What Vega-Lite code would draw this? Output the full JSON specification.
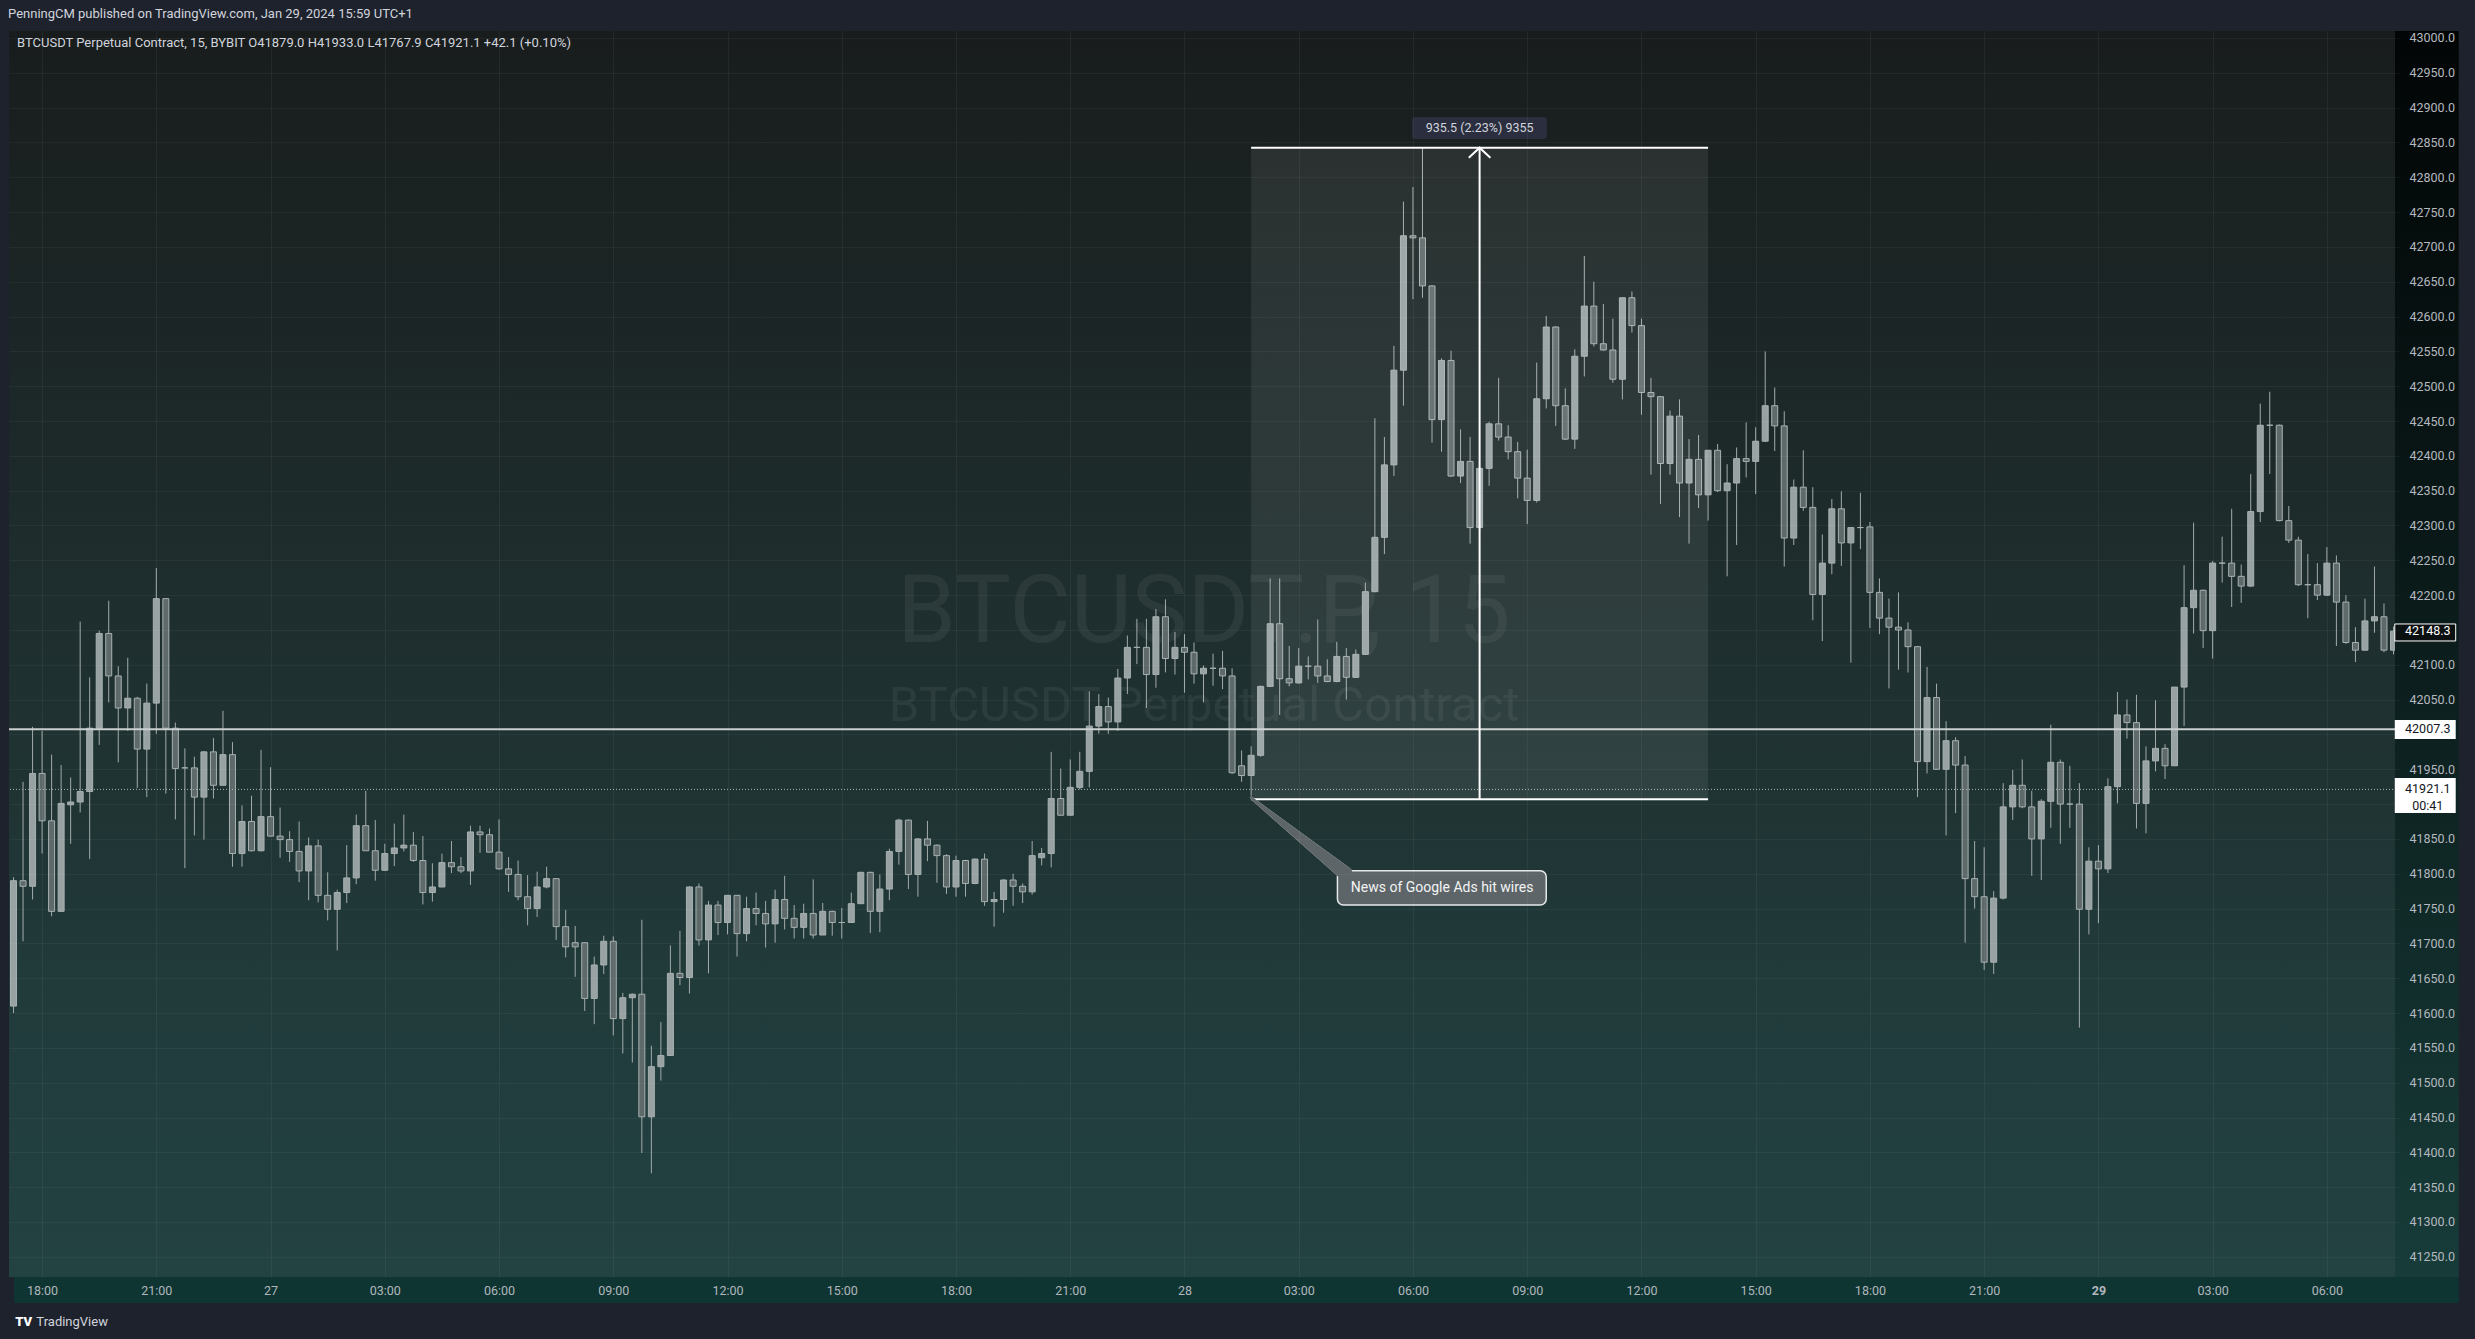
{
"$schema":"https://vega.github.io/schema/vega-lite/v6.json",
"width":2391,"height":1246,
"autosize":{"type":"none"},
"padding":{"left":9,"top":31,"right":75,"bottom":62},
"background":"#1e222d",
"config":{"view":{"stroke":null,"fill":{"gradient":"linear","x1":0,"y1":0,"x2":0,"y2":1,"stops":[{"offset":0,"color":"#181c1d"},{"offset":0.08,"color":"#1a2020"},{"offset":0.25,"color":"#1c2626"},{"offset":0.41,"color":"#1e2c2c"},{"offset":0.63,"color":"#203434"},{"offset":0.78,"color":"#213b3b"},{"offset":1,"color":"#234242"}]}},"font":"Roboto",
 "axis":{"labelOverlap":false}},
"datasets":{
"candles":[
{"t":"2024-01-26T17:15Z","o":41610,"h":41795,"l":41600,"c":41790},
{"t":"2024-01-26T17:30Z","o":41790,"h":41932,"l":41703,"c":41782},
{"t":"2024-01-26T17:45Z","o":41782,"h":42011,"l":41763,"c":41944},
{"t":"2024-01-26T18:00Z","o":41944,"h":42005,"l":41829,"c":41876},
{"t":"2024-01-26T18:15Z","o":41876,"h":41971,"l":41739,"c":41746},
{"t":"2024-01-26T18:30Z","o":41746,"h":41956,"l":41746,"c":41901},
{"t":"2024-01-26T18:45Z","o":41899,"h":41938,"l":41843,"c":41903},
{"t":"2024-01-26T19:00Z","o":41903,"h":42162,"l":41888,"c":41918},
{"t":"2024-01-26T19:15Z","o":41918,"h":42082,"l":41821,"c":42009},
{"t":"2024-01-26T19:30Z","o":42009,"h":42149,"l":41985,"c":42145},
{"t":"2024-01-26T19:45Z","o":42145,"h":42192,"l":42046,"c":42084},
{"t":"2024-01-26T20:00Z","o":42084,"h":42098,"l":41960,"c":42038},
{"t":"2024-01-26T20:15Z","o":42038,"h":42110,"l":42005,"c":42052},
{"t":"2024-01-26T20:30Z","o":42052,"h":42054,"l":41923,"c":41979},
{"t":"2024-01-26T20:45Z","o":41979,"h":42073,"l":41910,"c":42045},
{"t":"2024-01-26T21:00Z","o":42045,"h":42239,"l":42001,"c":42195},
{"t":"2024-01-26T21:15Z","o":42195,"h":42195,"l":41915,"c":42009},
{"t":"2024-01-26T21:30Z","o":42009,"h":42017,"l":41878,"c":41951},
{"t":"2024-01-26T21:45Z","o":41952,"h":41980,"l":41808,"c":41952},
{"t":"2024-01-26T22:00Z","o":41952,"h":41968,"l":41855,"c":41910},
{"t":"2024-01-26T22:15Z","o":41910,"h":41976,"l":41849,"c":41975},
{"t":"2024-01-26T22:30Z","o":41975,"h":41995,"l":41908,"c":41927},
{"t":"2024-01-26T22:45Z","o":41927,"h":42034,"l":41927,"c":41971},
{"t":"2024-01-26T23:00Z","o":41971,"h":41989,"l":41810,"c":41829},
{"t":"2024-01-26T23:15Z","o":41829,"h":41898,"l":41810,"c":41875},
{"t":"2024-01-26T23:30Z","o":41875,"h":41912,"l":41832,"c":41833},
{"t":"2024-01-26T23:45Z","o":41833,"h":41978,"l":41832,"c":41882},
{"t":"2024-01-27T00:00Z","o":41882,"h":41953,"l":41854,"c":41854},
{"t":"2024-01-27T00:15Z","o":41854,"h":41895,"l":41823,"c":41849},
{"t":"2024-01-27T00:30Z","o":41849,"h":41861,"l":41817,"c":41832},
{"t":"2024-01-27T00:45Z","o":41832,"h":41875,"l":41788,"c":41804},
{"t":"2024-01-27T01:00Z","o":41804,"h":41852,"l":41762,"c":41840},
{"t":"2024-01-27T01:15Z","o":41840,"h":41849,"l":41759,"c":41769},
{"t":"2024-01-27T01:30Z","o":41769,"h":41802,"l":41733,"c":41749},
{"t":"2024-01-27T01:45Z","o":41749,"h":41777,"l":41690,"c":41773},
{"t":"2024-01-27T02:00Z","o":41773,"h":41841,"l":41758,"c":41794},
{"t":"2024-01-27T02:15Z","o":41794,"h":41885,"l":41785,"c":41869},
{"t":"2024-01-27T02:30Z","o":41869,"h":41919,"l":41833,"c":41833},
{"t":"2024-01-27T02:45Z","o":41833,"h":41877,"l":41790,"c":41805},
{"t":"2024-01-27T03:00Z","o":41805,"h":41843,"l":41804,"c":41829},
{"t":"2024-01-27T03:15Z","o":41829,"h":41872,"l":41811,"c":41837},
{"t":"2024-01-27T03:30Z","o":41837,"h":41885,"l":41832,"c":41841},
{"t":"2024-01-27T03:45Z","o":41841,"h":41860,"l":41817,"c":41819},
{"t":"2024-01-27T04:00Z","o":41819,"h":41854,"l":41756,"c":41773},
{"t":"2024-01-27T04:15Z","o":41773,"h":41815,"l":41760,"c":41781},
{"t":"2024-01-27T04:30Z","o":41781,"h":41829,"l":41781,"c":41816},
{"t":"2024-01-27T04:45Z","o":41816,"h":41847,"l":41801,"c":41810},
{"t":"2024-01-27T05:00Z","o":41810,"h":41824,"l":41801,"c":41804},
{"t":"2024-01-27T05:15Z","o":41804,"h":41869,"l":41784,"c":41860},
{"t":"2024-01-27T05:30Z","o":41860,"h":41869,"l":41830,"c":41856},
{"t":"2024-01-27T05:45Z","o":41856,"h":41865,"l":41831,"c":41831},
{"t":"2024-01-27T06:00Z","o":41831,"h":41878,"l":41806,"c":41807},
{"t":"2024-01-27T06:15Z","o":41807,"h":41824,"l":41774,"c":41799},
{"t":"2024-01-27T06:30Z","o":41799,"h":41819,"l":41762,"c":41767},
{"t":"2024-01-27T06:45Z","o":41767,"h":41798,"l":41726,"c":41750},
{"t":"2024-01-27T07:00Z","o":41750,"h":41803,"l":41738,"c":41781},
{"t":"2024-01-27T07:15Z","o":41781,"h":41810,"l":41779,"c":41793},
{"t":"2024-01-27T07:30Z","o":41793,"h":41793,"l":41705,"c":41724},
{"t":"2024-01-27T07:45Z","o":41724,"h":41748,"l":41680,"c":41695},
{"t":"2024-01-27T08:00Z","o":41701,"h":41725,"l":41652,"c":41695},
{"t":"2024-01-27T08:15Z","o":41701,"h":41701,"l":41603,"c":41621},
{"t":"2024-01-27T08:30Z","o":41621,"h":41681,"l":41584,"c":41669},
{"t":"2024-01-27T08:45Z","o":41669,"h":41711,"l":41656,"c":41703},
{"t":"2024-01-27T09:00Z","o":41703,"h":41710,"l":41568,"c":41592},
{"t":"2024-01-27T09:15Z","o":41592,"h":41629,"l":41542,"c":41622},
{"t":"2024-01-27T09:30Z","o":41622,"h":41628,"l":41529,"c":41627},
{"t":"2024-01-27T09:45Z","o":41627,"h":41734,"l":41399,"c":41451},
{"t":"2024-01-27T10:00Z","o":41451,"h":41553,"l":41370,"c":41523},
{"t":"2024-01-27T10:15Z","o":41523,"h":41587,"l":41503,"c":41539},
{"t":"2024-01-27T10:30Z","o":41539,"h":41697,"l":41539,"c":41657},
{"t":"2024-01-27T10:45Z","o":41657,"h":41718,"l":41640,"c":41651},
{"t":"2024-01-27T11:00Z","o":41651,"h":41782,"l":41628,"c":41781},
{"t":"2024-01-27T11:15Z","o":41781,"h":41786,"l":41697,"c":41705},
{"t":"2024-01-27T11:30Z","o":41705,"h":41761,"l":41657,"c":41755},
{"t":"2024-01-27T11:45Z","o":41755,"h":41761,"l":41712,"c":41730},
{"t":"2024-01-27T12:00Z","o":41730,"h":41769,"l":41713,"c":41769},
{"t":"2024-01-27T12:15Z","o":41769,"h":41769,"l":41681,"c":41714},
{"t":"2024-01-27T12:30Z","o":41714,"h":41767,"l":41703,"c":41750},
{"t":"2024-01-27T12:45Z","o":41750,"h":41773,"l":41726,"c":41743},
{"t":"2024-01-27T13:00Z","o":41743,"h":41761,"l":41694,"c":41728},
{"t":"2024-01-27T13:15Z","o":41728,"h":41777,"l":41701,"c":41763},
{"t":"2024-01-27T13:30Z","o":41763,"h":41797,"l":41720,"c":41736},
{"t":"2024-01-27T13:45Z","o":41736,"h":41755,"l":41707,"c":41723},
{"t":"2024-01-27T14:00Z","o":41723,"h":41757,"l":41707,"c":41743},
{"t":"2024-01-27T14:15Z","o":41743,"h":41792,"l":41707,"c":41712},
{"t":"2024-01-27T14:30Z","o":41712,"h":41758,"l":41712,"c":41746},
{"t":"2024-01-27T14:45Z","o":41746,"h":41747,"l":41711,"c":41730},
{"t":"2024-01-27T15:00Z","o":41730,"h":41751,"l":41707,"c":41730},
{"t":"2024-01-27T15:15Z","o":41730,"h":41773,"l":41730,"c":41757},
{"t":"2024-01-27T15:30Z","o":41757,"h":41803,"l":41757,"c":41802},
{"t":"2024-01-27T15:45Z","o":41802,"h":41803,"l":41715,"c":41746},
{"t":"2024-01-27T16:00Z","o":41746,"h":41799,"l":41716,"c":41778},
{"t":"2024-01-27T16:15Z","o":41778,"h":41836,"l":41762,"c":41832},
{"t":"2024-01-27T16:30Z","o":41832,"h":41879,"l":41813,"c":41877},
{"t":"2024-01-27T16:45Z","o":41877,"h":41878,"l":41778,"c":41799},
{"t":"2024-01-27T17:00Z","o":41799,"h":41851,"l":41767,"c":41850},
{"t":"2024-01-27T17:15Z","o":41850,"h":41876,"l":41818,"c":41841},
{"t":"2024-01-27T17:30Z","o":41841,"h":41842,"l":41787,"c":41826},
{"t":"2024-01-27T17:45Z","o":41826,"h":41828,"l":41771,"c":41781},
{"t":"2024-01-27T18:00Z","o":41781,"h":41826,"l":41767,"c":41819},
{"t":"2024-01-27T18:15Z","o":41819,"h":41820,"l":41767,"c":41786},
{"t":"2024-01-27T18:30Z","o":41786,"h":41822,"l":41785,"c":41821},
{"t":"2024-01-27T18:45Z","o":41821,"h":41829,"l":41754,"c":41760},
{"t":"2024-01-27T19:00Z","o":41760,"h":41774,"l":41724,"c":41763},
{"t":"2024-01-27T19:15Z","o":41763,"h":41792,"l":41744,"c":41791},
{"t":"2024-01-27T19:30Z","o":41791,"h":41800,"l":41754,"c":41782},
{"t":"2024-01-27T19:45Z","o":41782,"h":41786,"l":41758,"c":41774},
{"t":"2024-01-27T20:00Z","o":41774,"h":41847,"l":41770,"c":41826},
{"t":"2024-01-27T20:15Z","o":41823,"h":41837,"l":41812,"c":41829},
{"t":"2024-01-27T20:30Z","o":41829,"h":41975,"l":41809,"c":41908},
{"t":"2024-01-27T20:45Z","o":41908,"h":41951,"l":41884,"c":41884},
{"t":"2024-01-27T21:00Z","o":41884,"h":41964,"l":41884,"c":41924},
{"t":"2024-01-27T21:15Z","o":41924,"h":41975,"l":41921,"c":41947},
{"t":"2024-01-27T21:30Z","o":41947,"h":42062,"l":41924,"c":42012},
{"t":"2024-01-27T21:45Z","o":42012,"h":42058,"l":42001,"c":42040},
{"t":"2024-01-27T22:00Z","o":42040,"h":42053,"l":42001,"c":42018},
{"t":"2024-01-27T22:15Z","o":42018,"h":42094,"l":42005,"c":42081},
{"t":"2024-01-27T22:30Z","o":42081,"h":42142,"l":42058,"c":42125},
{"t":"2024-01-27T22:45Z","o":42125,"h":42166,"l":42101,"c":42125},
{"t":"2024-01-27T23:00Z","o":42125,"h":42166,"l":42038,"c":42086},
{"t":"2024-01-27T23:15Z","o":42086,"h":42180,"l":42067,"c":42169},
{"t":"2024-01-27T23:30Z","o":42169,"h":42194,"l":42089,"c":42109},
{"t":"2024-01-27T23:45Z","o":42109,"h":42147,"l":42086,"c":42125},
{"t":"2024-01-28T00:00Z","o":42125,"h":42144,"l":42060,"c":42118},
{"t":"2024-01-28T00:15Z","o":42118,"h":42132,"l":42073,"c":42087},
{"t":"2024-01-28T00:30Z","o":42087,"h":42099,"l":42046,"c":42095},
{"t":"2024-01-28T00:45Z","o":42095,"h":42116,"l":42070,"c":42095},
{"t":"2024-01-28T01:00Z","o":42095,"h":42120,"l":42065,"c":42084},
{"t":"2024-01-28T01:15Z","o":42084,"h":42095,"l":41943,"c":41945},
{"t":"2024-01-28T01:30Z","o":41955,"h":41977,"l":41932,"c":41941},
{"t":"2024-01-28T01:45Z","o":41941,"h":41983,"l":41912,"c":41970},
{"t":"2024-01-28T02:00Z","o":41970,"h":42070,"l":41968,"c":42069},
{"t":"2024-01-28T02:15Z","o":42069,"h":42224,"l":42068,"c":42159},
{"t":"2024-01-28T02:30Z","o":42159,"h":42224,"l":42028,"c":42080},
{"t":"2024-01-28T02:45Z","o":42080,"h":42127,"l":42069,"c":42074},
{"t":"2024-01-28T03:00Z","o":42074,"h":42124,"l":42073,"c":42098},
{"t":"2024-01-28T03:15Z","o":42098,"h":42112,"l":42079,"c":42098},
{"t":"2024-01-28T03:30Z","o":42098,"h":42165,"l":42074,"c":42084},
{"t":"2024-01-28T03:45Z","o":42084,"h":42108,"l":42075,"c":42076},
{"t":"2024-01-28T04:00Z","o":42076,"h":42133,"l":42075,"c":42112},
{"t":"2024-01-28T04:15Z","o":42112,"h":42124,"l":42050,"c":42082},
{"t":"2024-01-28T04:30Z","o":42082,"h":42122,"l":42081,"c":42115},
{"t":"2024-01-28T04:45Z","o":42115,"h":42218,"l":42114,"c":42205},
{"t":"2024-01-28T05:00Z","o":42205,"h":42454,"l":42204,"c":42283},
{"t":"2024-01-28T05:15Z","o":42283,"h":42427,"l":42259,"c":42387},
{"t":"2024-01-28T05:30Z","o":42387,"h":42558,"l":42371,"c":42523},
{"t":"2024-01-28T05:45Z","o":42523,"h":42765,"l":42472,"c":42716},
{"t":"2024-01-28T06:00Z","o":42716,"h":42786,"l":42625,"c":42713},
{"t":"2024-01-28T06:15Z","o":42713,"h":42842.5,"l":42627,"c":42644},
{"t":"2024-01-28T06:30Z","o":42644,"h":42645,"l":42419,"c":42452},
{"t":"2024-01-28T06:45Z","o":42452,"h":42540,"l":42406,"c":42537},
{"t":"2024-01-28T07:00Z","o":42537,"h":42551,"l":42370,"c":42371},
{"t":"2024-01-28T07:15Z","o":42371,"h":42438,"l":42361,"c":42392},
{"t":"2024-01-28T07:30Z","o":42392,"h":42427,"l":42274,"c":42297},
{"t":"2024-01-28T07:45Z","o":42297,"h":42390,"l":42290,"c":42382},
{"t":"2024-01-28T08:00Z","o":42382,"h":42449,"l":42357,"c":42446},
{"t":"2024-01-28T08:15Z","o":42446,"h":42512,"l":42422,"c":42427},
{"t":"2024-01-28T08:30Z","o":42427,"h":42444,"l":42395,"c":42406},
{"t":"2024-01-28T08:45Z","o":42406,"h":42420,"l":42339,"c":42368},
{"t":"2024-01-28T09:00Z","o":42368,"h":42409,"l":42302,"c":42336},
{"t":"2024-01-28T09:15Z","o":42336,"h":42534,"l":42333,"c":42482},
{"t":"2024-01-28T09:30Z","o":42482,"h":42601,"l":42468,"c":42585},
{"t":"2024-01-28T09:45Z","o":42585,"h":42586,"l":42443,"c":42472},
{"t":"2024-01-28T10:00Z","o":42472,"h":42497,"l":42423,"c":42424},
{"t":"2024-01-28T10:15Z","o":42424,"h":42553,"l":42410,"c":42543},
{"t":"2024-01-28T10:30Z","o":42543,"h":42687,"l":42514,"c":42615},
{"t":"2024-01-28T10:45Z","o":42615,"h":42650,"l":42557,"c":42561},
{"t":"2024-01-28T11:00Z","o":42561,"h":42618,"l":42551,"c":42552},
{"t":"2024-01-28T11:15Z","o":42552,"h":42597,"l":42505,"c":42510},
{"t":"2024-01-28T11:30Z","o":42510,"h":42627,"l":42481,"c":42627},
{"t":"2024-01-28T11:45Z","o":42627,"h":42636,"l":42577,"c":42587},
{"t":"2024-01-28T12:00Z","o":42587,"h":42597,"l":42459,"c":42491},
{"t":"2024-01-28T12:15Z","o":42491,"h":42512,"l":42373,"c":42485},
{"t":"2024-01-28T12:30Z","o":42485,"h":42485,"l":42331,"c":42389},
{"t":"2024-01-28T12:45Z","o":42389,"h":42465,"l":42373,"c":42457},
{"t":"2024-01-28T13:00Z","o":42457,"h":42481,"l":42312,"c":42361},
{"t":"2024-01-28T13:15Z","o":42361,"h":42424,"l":42274,"c":42395},
{"t":"2024-01-28T13:30Z","o":42395,"h":42430,"l":42325,"c":42344},
{"t":"2024-01-28T13:45Z","o":42344,"h":42408,"l":42307,"c":42408},
{"t":"2024-01-28T14:00Z","o":42408,"h":42417,"l":42348,"c":42350},
{"t":"2024-01-28T14:15Z","o":42350,"h":42388,"l":42227,"c":42361},
{"t":"2024-01-28T14:30Z","o":42361,"h":42412,"l":42272,"c":42396},
{"t":"2024-01-28T14:45Z","o":42396,"h":42448,"l":42369,"c":42392},
{"t":"2024-01-28T15:00Z","o":42392,"h":42441,"l":42345,"c":42421},
{"t":"2024-01-28T15:15Z","o":42421,"h":42550,"l":42420,"c":42472},
{"t":"2024-01-28T15:30Z","o":42472,"h":42498,"l":42407,"c":42443},
{"t":"2024-01-28T15:45Z","o":42443,"h":42464,"l":42241,"c":42282},
{"t":"2024-01-28T16:00Z","o":42282,"h":42366,"l":42272,"c":42355},
{"t":"2024-01-28T16:15Z","o":42355,"h":42408,"l":42321,"c":42326},
{"t":"2024-01-28T16:30Z","o":42326,"h":42355,"l":42164,"c":42201},
{"t":"2024-01-28T16:45Z","o":42201,"h":42287,"l":42134,"c":42246},
{"t":"2024-01-28T17:00Z","o":42246,"h":42338,"l":42230,"c":42324},
{"t":"2024-01-28T17:15Z","o":42324,"h":42349,"l":42242,"c":42275},
{"t":"2024-01-28T17:30Z","o":42275,"h":42297,"l":42103,"c":42297},
{"t":"2024-01-28T17:45Z","o":42297,"h":42347,"l":42266,"c":42297},
{"t":"2024-01-28T18:00Z","o":42298,"h":42305,"l":42153,"c":42204},
{"t":"2024-01-28T18:15Z","o":42204,"h":42224,"l":42144,"c":42167},
{"t":"2024-01-28T18:30Z","o":42167,"h":42195,"l":42066,"c":42154},
{"t":"2024-01-28T18:45Z","o":42154,"h":42204,"l":42093,"c":42150},
{"t":"2024-01-28T19:00Z","o":42150,"h":42161,"l":42089,"c":42126},
{"t":"2024-01-28T19:15Z","o":42126,"h":42127,"l":41910,"c":41961},
{"t":"2024-01-28T19:30Z","o":41961,"h":42097,"l":41944,"c":42053},
{"t":"2024-01-28T19:45Z","o":42053,"h":42073,"l":41950,"c":41950},
{"t":"2024-01-28T20:00Z","o":41950,"h":42019,"l":41855,"c":41991},
{"t":"2024-01-28T20:15Z","o":41991,"h":41996,"l":41887,"c":41956},
{"t":"2024-01-28T20:30Z","o":41956,"h":41969,"l":41701,"c":41793},
{"t":"2024-01-28T20:45Z","o":41793,"h":41847,"l":41750,"c":41767},
{"t":"2024-01-28T21:00Z","o":41767,"h":41838,"l":41662,"c":41673},
{"t":"2024-01-28T21:15Z","o":41673,"h":41775,"l":41656,"c":41765},
{"t":"2024-01-28T21:30Z","o":41765,"h":41930,"l":41763,"c":41896},
{"t":"2024-01-28T21:45Z","o":41896,"h":41949,"l":41877,"c":41927},
{"t":"2024-01-28T22:00Z","o":41927,"h":41964,"l":41894,"c":41896},
{"t":"2024-01-28T22:15Z","o":41896,"h":41919,"l":41797,"c":41850},
{"t":"2024-01-28T22:30Z","o":41850,"h":41907,"l":41791,"c":41904},
{"t":"2024-01-28T22:45Z","o":41904,"h":42014,"l":41866,"c":41960},
{"t":"2024-01-28T23:00Z","o":41960,"h":41964,"l":41843,"c":41900},
{"t":"2024-01-28T23:15Z","o":41900,"h":41955,"l":41866,"c":41900},
{"t":"2024-01-28T23:30Z","o":41900,"h":41930,"l":41579,"c":41749},
{"t":"2024-01-28T23:45Z","o":41749,"h":41838,"l":41713,"c":41818},
{"t":"2024-01-29T00:00Z","o":41818,"h":41841,"l":41729,"c":41807},
{"t":"2024-01-29T00:15Z","o":41807,"h":41937,"l":41801,"c":41925},
{"t":"2024-01-29T00:30Z","o":41925,"h":42061,"l":41901,"c":42028},
{"t":"2024-01-29T00:45Z","o":42028,"h":42050,"l":41994,"c":42017},
{"t":"2024-01-29T01:00Z","o":42017,"h":42057,"l":41865,"c":41901},
{"t":"2024-01-29T01:15Z","o":41901,"h":41983,"l":41858,"c":41962},
{"t":"2024-01-29T01:30Z","o":41962,"h":42049,"l":41947,"c":41980},
{"t":"2024-01-29T01:45Z","o":41980,"h":41986,"l":41936,"c":41955},
{"t":"2024-01-29T02:00Z","o":41955,"h":42068,"l":41955,"c":42068},
{"t":"2024-01-29T02:15Z","o":42068,"h":42243,"l":42012,"c":42182},
{"t":"2024-01-29T02:30Z","o":42182,"h":42304,"l":42145,"c":42207},
{"t":"2024-01-29T02:45Z","o":42207,"h":42208,"l":42124,"c":42149},
{"t":"2024-01-29T03:00Z","o":42149,"h":42249,"l":42109,"c":42246},
{"t":"2024-01-29T03:15Z","o":42246,"h":42284,"l":42218,"c":42246},
{"t":"2024-01-29T03:30Z","o":42246,"h":42324,"l":42183,"c":42227},
{"t":"2024-01-29T03:45Z","o":42227,"h":42244,"l":42189,"c":42213},
{"t":"2024-01-29T04:00Z","o":42213,"h":42374,"l":42212,"c":42320},
{"t":"2024-01-29T04:15Z","o":42320,"h":42475,"l":42305,"c":42444},
{"t":"2024-01-29T04:30Z","o":42444,"h":42492,"l":42374,"c":42444},
{"t":"2024-01-29T04:45Z","o":42444,"h":42445,"l":42306,"c":42307},
{"t":"2024-01-29T05:00Z","o":42307,"h":42328,"l":42275,"c":42279},
{"t":"2024-01-29T05:15Z","o":42279,"h":42284,"l":42213,"c":42215},
{"t":"2024-01-29T05:30Z","o":42215,"h":42259,"l":42167,"c":42215},
{"t":"2024-01-29T05:45Z","o":42215,"h":42246,"l":42193,"c":42200},
{"t":"2024-01-29T06:00Z","o":42200,"h":42269,"l":42199,"c":42246},
{"t":"2024-01-29T06:15Z","o":42246,"h":42257,"l":42127,"c":42190},
{"t":"2024-01-29T06:30Z","o":42190,"h":42200,"l":42130,"c":42132},
{"t":"2024-01-29T06:45Z","o":42132,"h":42154,"l":42104,"c":42121},
{"t":"2024-01-29T07:00Z","o":42121,"h":42195,"l":42120,"c":42163},
{"t":"2024-01-29T07:15Z","o":42163,"h":42241,"l":42146,"c":42169},
{"t":"2024-01-29T07:30Z","o":42169,"h":42188,"l":42118,"c":42121},
{"t":"2024-01-29T07:45Z","o":42121,"h":42155,"l":42115,"c":42148.3}
],
"wm1":[{"t":"2024-01-28T00:30:45Z","p":42132.8,"text":"BTCUSDT.P, 15"}],
"wm2":[{"t":"2024-01-28T00:30:45Z","p":42019.3,"text":"BTCUSDT Perpetual Contract"}],
"hline":[{"t1":"2024-01-26T17:00Z","t2":"2024-01-29T07:48Z","p":42007.3}],
"dline":[{"t1":"2024-01-26T17:00Z","t2":"2024-01-29T07:48Z","p":41921.1}],
"mrect":[{"t1":"2024-01-28T01:45Z","t2":"2024-01-28T13:45Z","p1":41907,"p2":42842.5}],
"mlines":[{"t1":"2024-01-28T01:45Z","t2":"2024-01-28T13:45Z","p":41907},{"t1":"2024-01-28T01:45Z","t2":"2024-01-28T13:45Z","p":42842.5}],
"marrow":[{"t":"2024-01-28T07:45Z","p1":41907,"p2":42842.5}],
"mhead":[{"t":"2024-01-28T07:28Z","p":42828,"k":0},{"t":"2024-01-28T07:45Z","p":42842.5,"k":1},{"t":"2024-01-28T08:02Z","p":42828,"k":2}],
"mlabbox":[{"t1":"2024-01-28T05:59Z","t2":"2024-01-28T09:31Z","p1":42855,"p2":42886.5}],
"mlabtext":[{"t":"2024-01-28T07:45Z","p":42870.7,"text":"935.5 (2.23%) 9355"}],
"ptr":[{"t":"2024-01-28T01:45Z","p":41909,"k":0},{"t":"2024-01-28T04:14Z","p":41800,"k":1}],
"cbox":[{"t1":"2024-01-28T04:01Z","t2":"2024-01-28T09:30Z","p1":41755.2,"p2":41804.4}],
"ctext":[{"t":"2024-01-28T06:46Z","p":41779.6,"text":"News of Google Ads hit wires"}],
"pband":[{"t1":"2024-01-29T07:47:20Z","t2":"2024-01-29T09:27:45Z","p1":41221,"p2":43010}],
"xband":[{"t1":"2024-01-26T17:15:45Z","t2":"2024-01-29T09:27:45Z","p1":41183.7,"p2":41221}],
"tagdark":[{"t1":"2024-01-29T07:47Z","t2":"2024-01-29T09:23Z","p1":42134.2,"p2":42158.6}],
"tagwhite":[{"t1":"2024-01-29T07:47Z","t2":"2024-01-29T09:23Z","p1":41993.5,"p2":42020.8},{"t1":"2024-01-29T07:47Z","t2":"2024-01-29T09:23Z","p1":41887.2,"p2":41937.5}],
"tagtextw":[{"t":"2024-01-29T08:39Z","p":42148.3,"text":"42148.3"}],
"tagtextd":[{"t":"2024-01-29T08:39Z","p":42007.3,"text":"42007.3"},{"t":"2024-01-29T08:39Z","p":41921.1,"text":"41921.1"},{"t":"2024-01-29T08:39Z","p":41897.5,"text":"00:41"}],
"texts":[{"t":"2024-01-26T17:06:20Z","p":43034.4,"text":"PenningCM published on TradingView.com, Jan 29, 2024 15:59 UTC+1"},{"t":"2024-01-26T17:20:30Z","p":42993.3,"text":"BTCUSDT Perpetual Contract, 15, BYBIT  O41879.0  H41933.0  L41767.9  C41921.1  +42.1 (+0.10%)"},{"t":"2024-01-26T17:51Z","p":41156.5,"text":"TradingView"}],
"logo":[{"t":"2024-01-26T17:31Z","p":41156.5,"text":"TV"}]
},
"layer":[
{"data":{"name":"candles"},"mark":{"type":"rule","color":"#a3abab","strokeWidth":1,"clip":true},
 "encoding":{"x":{"field":"t","type":"temporal","title":null,"scale":{"type":"utc","nice":false,"domain":[1706289345000,1706514440000]},
   "axis":{"orient":"bottom","title":null,"grid":true,"gridColor":"#ffffff","gridOpacity":0.05,"ticks":false,"domain":false,"tickCount":60,"values":[1706292000000,1706302800000,1706313600000,1706324400000,1706335200000,1706346000000,1706356800000,1706367600000,1706378400000,1706389200000,1706400000000,1706410800000,1706421600000,1706432400000,1706443200000,1706454000000,1706464800000,1706475600000,1706486400000,1706497200000,1706508000000],"labelExpr":"utchours(datum.value)==0 ? utcFormat(datum.value,'%-d') : utcFormat(datum.value,'%H:%M')","labelColor":"#b2b5be","labelFontWeight":{"condition":{"test":"utcdate(datum.value)==29 && utchours(datum.value)==0","value":"bold"},"value":"normal"},"labelFont":"Roboto","labelFontSize":12.5,"labelBaseline":"middle","labelPadding":13,"labelFlush":false,"labelOverlap":false,"zindex":1}},
  "y":{"field":"l","type":"quantitative","title":null,"scale":{"domain":[41221,43010],"zero":false,"nice":false},
   "axis":{"orient":"right","title":null,"grid":true,"gridColor":"#ffffff","gridOpacity":0.045,"ticks":false,"domain":false,"tickCount":80,"values":[41250,41300,41350,41400,41450,41500,41550,41600,41650,41700,41750,41800,41850,41900,41950,42000,42050,42100,42150,42200,42250,42300,42350,42400,42450,42500,42550,42600,42650,42700,42750,42800,42850,42900,42950,43000],"labelExpr":"(datum.value==41900 || datum.value==42000 || datum.value==42150) ? '' : format(datum.value,'.1f')","labelAlign":"left","labelBaseline":"middle","labelPadding":9,"labelColor":"#b5b8bf","labelFont":"Roboto","labelFontSize":12.5,"labelOverlap":false,"labelFlush":false,"labelBound":false,"zindex":1}},
  "y2":{"field":"h"}}},
{"data":{"name":"wm1"},"mark":{"type":"text","font":"Roboto","fontSize":94,"color":"#ffffff","opacity":0.055,"align":"center","baseline":"alphabetic"},
 "encoding":{"x":{"field":"t","type":"temporal","title":null},"y":{"field":"p","type":"quantitative","title":null},"text":{"field":"text"}}},
{"data":{"name":"wm2"},"mark":{"type":"text","font":"Roboto","fontSize":49,"color":"#ffffff","opacity":0.055,"align":"center","baseline":"alphabetic"},
 "encoding":{"x":{"field":"t","type":"temporal","title":null},"y":{"field":"p","type":"quantitative","title":null},"text":{"field":"text"}}},
{"data":{"name":"candles"},"mark":{"type":"bar","size":6,"stroke":"#a8b1b1","strokeWidth":1,"clip":true},
 "encoding":{"x":{"field":"t","type":"temporal","title":null},"y":{"field":"o","type":"quantitative","title":null},"y2":{"field":"c"},
  "fill":{"condition":{"test":"datum.c >= datum.o","value":"#98a2a2"},"value":"#5e696a"}}},
{"data":{"name":"hline"},"mark":{"type":"rule","color":"#c9cfcf","strokeWidth":2,"clip":true},
 "encoding":{"x":{"field":"t1","type":"temporal","title":null},"x2":{"field":"t2"},"y":{"field":"p","type":"quantitative","title":null}}},
{"data":{"name":"dline"},"mark":{"type":"rule","color":"#aeb6b6","strokeWidth":1,"strokeDash":[1,2],"clip":true},
 "encoding":{"x":{"field":"t1","type":"temporal","title":null},"x2":{"field":"t2"},"y":{"field":"p","type":"quantitative","title":null}}},
{"data":{"name":"mrect"},"mark":{"type":"rect","fill":"#ffffff","fillOpacity":0.075},
 "encoding":{"x":{"field":"t1","type":"temporal","title":null},"x2":{"field":"t2"},"y":{"field":"p1","type":"quantitative","title":null},"y2":{"field":"p2"}}},
{"data":{"name":"mlines"},"mark":{"type":"rule","color":"#ffffff","strokeWidth":2},
 "encoding":{"x":{"field":"t1","type":"temporal","title":null},"x2":{"field":"t2"},"y":{"field":"p","type":"quantitative","title":null}}},
{"data":{"name":"marrow"},"mark":{"type":"rule","color":"#ffffff","strokeWidth":2},
 "encoding":{"x":{"field":"t","type":"temporal","title":null},"y":{"field":"p1","type":"quantitative","title":null},"y2":{"field":"p2"}}},
{"data":{"name":"mhead"},"mark":{"type":"line","color":"#ffffff","strokeWidth":2},
 "encoding":{"x":{"field":"t","type":"temporal","title":null},"y":{"field":"p","type":"quantitative","title":null},"order":{"field":"k"}}},
{"data":{"name":"mlabbox"},"mark":{"type":"rect","fill":"#2a2e3e","cornerRadius":3},
 "encoding":{"x":{"field":"t1","type":"temporal","title":null},"x2":{"field":"t2"},"y":{"field":"p1","type":"quantitative","title":null},"y2":{"field":"p2"}}},
{"data":{"name":"mlabtext"},"mark":{"type":"text","font":"Roboto","fontSize":12.5,"color":"#d1d4dc","align":"center","baseline":"middle"},
 "encoding":{"x":{"field":"t","type":"temporal","title":null},"y":{"field":"p","type":"quantitative","title":null},"text":{"field":"text"}}},
{"data":{"name":"ptr"},"mark":{"type":"trail","color":"#e6e9ea"},
 "encoding":{"x":{"field":"t","type":"temporal","title":null},"y":{"field":"p","type":"quantitative","title":null},
  "size":{"field":"k","type":"quantitative","scale":{"domain":[0,1],"range":[2.5,14]},"legend":null}}},
{"data":{"name":"cbox"},"mark":{"type":"rect","fill":"#5d6568","stroke":"#e6e9ea","strokeWidth":1.5,"cornerRadius":6},
 "encoding":{"x":{"field":"t1","type":"temporal","title":null},"x2":{"field":"t2"},"y":{"field":"p1","type":"quantitative","title":null},"y2":{"field":"p2"}}},
{"data":{"name":"ptr"},"mark":{"type":"trail","color":"#5d6568"},
 "encoding":{"x":{"field":"t","type":"temporal","title":null},"y":{"field":"p","type":"quantitative","title":null},
  "size":{"field":"k","type":"quantitative","scale":{"domain":[0,1],"range":[0.5,10]},"legend":null}}},
{"data":{"name":"ctext"},"mark":{"type":"text","font":"Roboto","fontSize":14,"color":"#f2f4f5","align":"center","baseline":"middle"},
 "encoding":{"x":{"field":"t","type":"temporal","title":null},"y":{"field":"p","type":"quantitative","title":null},"text":{"field":"text"}}},
{"data":{"name":"pband"},"mark":{"type":"rect","fill":{"gradient":"linear","x1":0,"y1":0,"x2":0,"y2":1,"stops":[{"offset":0,"color":"#020505"},{"offset":0.5,"color":"#0b1d1c"},{"offset":1,"color":"#173c39"}]}},
 "encoding":{"x":{"field":"t1","type":"temporal","title":null},"x2":{"field":"t2"},"y":{"field":"p1","type":"quantitative","title":null},"y2":{"field":"p2"}}},
{"data":{"name":"xband"},"mark":{"type":"rect","fill":"#0e3531"},
 "encoding":{"x":{"field":"t1","type":"temporal","title":null},"x2":{"field":"t2"},"y":{"field":"p1","type":"quantitative","title":null},"y2":{"field":"p2"}}},
{"data":{"name":"tagdark"},"mark":{"type":"rect","fill":"#0b1010","stroke":"#ffffff","strokeWidth":1},
 "encoding":{"x":{"field":"t1","type":"temporal","title":null},"x2":{"field":"t2"},"y":{"field":"p1","type":"quantitative","title":null},"y2":{"field":"p2"}}},
{"data":{"name":"tagwhite"},"mark":{"type":"rect","fill":"#ffffff"},
 "encoding":{"x":{"field":"t1","type":"temporal","title":null},"x2":{"field":"t2"},"y":{"field":"p1","type":"quantitative","title":null},"y2":{"field":"p2"}}},
{"data":{"name":"tagtextw"},"mark":{"type":"text","font":"Roboto","fontSize":12.5,"color":"#ffffff","align":"center","baseline":"middle"},
 "encoding":{"x":{"field":"t","type":"temporal","title":null},"y":{"field":"p","type":"quantitative","title":null},"text":{"field":"text"}}},
{"data":{"name":"tagtextd"},"mark":{"type":"text","font":"Roboto","fontSize":12.5,"color":"#131722","align":"center","baseline":"middle"},
 "encoding":{"x":{"field":"t","type":"temporal","title":null},"y":{"field":"p","type":"quantitative","title":null},"text":{"field":"text"}}},
{"data":{"name":"logo"},"mark":{"type":"text","font":"Roboto","fontSize":13,"fontWeight":900,"color":"#ffffff","align":"center","baseline":"middle"},
 "encoding":{"x":{"field":"t","type":"temporal","title":null},"y":{"field":"p","type":"quantitative","title":null},"text":{"field":"text"}}},
{"data":{"name":"texts"},"mark":{"type":"text","font":"Roboto","fontSize":13,"color":"#d1d4dc","align":"left","baseline":"middle"},
 "encoding":{"x":{"field":"t","type":"temporal","title":null},"y":{"field":"p","type":"quantitative","title":null},"text":{"field":"text"}}}
]
}
